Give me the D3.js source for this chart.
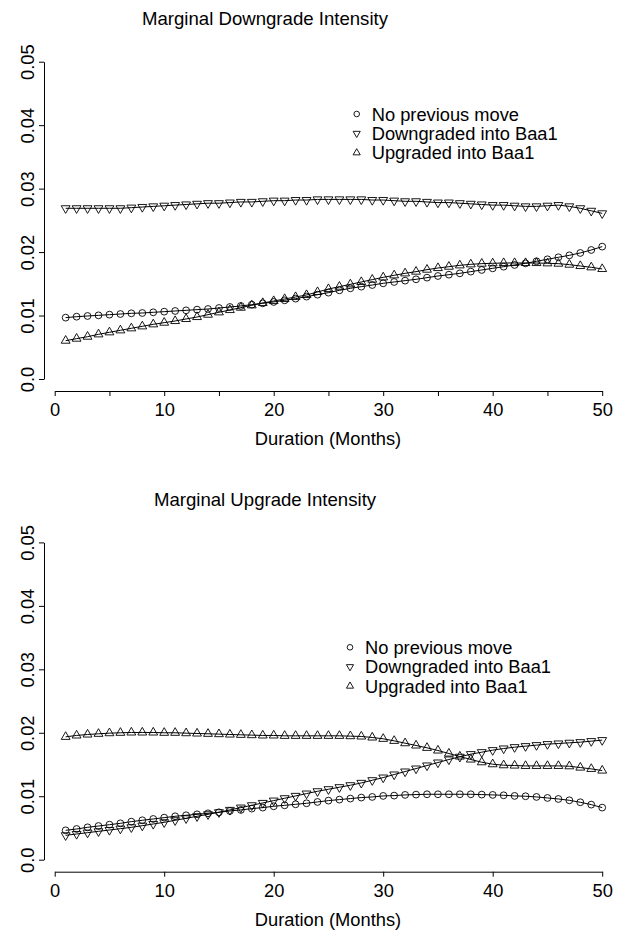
<!DOCTYPE html>
<html>
<head>
<meta charset="utf-8">
<script src="https://cdn.jsdelivr.net/npm/d3@7"></script>
<style>
  html, body { margin: 0; padding: 0; background: #fff; }
  svg { display: block; }
  text { font-family: "Liberation Sans", Arial, Helvetica, sans-serif; fill: #000; }
</style>
</head>
<body>
<svg id="chart" width="624" height="930"></svg>
<script>
// ---------------- data ----------------
const months = d3.range(1, 51); // 1..50

const seriesNames = ["No previous move", "Downgraded into Baa1", "Upgraded into Baa1"];

const downNoPrev = [0.00967,0.00982,0.00993,0.01003,0.01014,0.01024,0.01035,0.01040,0.01051,0.01061,
  0.01072,0.01082,0.01093,0.01103,0.01119,0.01135,0.01151,0.01172,0.01193,0.01214,
  0.01240,0.01266,0.01298,0.01329,0.01361,0.01397,0.01429,0.01455,0.01481,0.01508,
  0.01529,0.01550,0.01571,0.01597,0.01623,0.01644,0.01665,0.01692,0.01718,0.01744,
  0.01770,0.01797,0.01823,0.01855,0.01886,0.01918,0.01949,0.01986,0.02033,0.02086];

const downDowngraded = [0.0269,0.0269,0.0269,0.0269,0.0269,0.0269,0.0270,0.0271,0.0272,0.0273,
  0.0274,0.0275,0.0276,0.0277,0.0277,0.0278,0.0279,0.0279,0.0280,0.0281,
  0.0281,0.0282,0.0282,0.0283,0.0283,0.0283,0.0283,0.0283,0.0282,0.0282,
  0.0281,0.0280,0.0280,0.0279,0.0278,0.0278,0.0277,0.0276,0.0275,0.0274,
  0.0274,0.0273,0.0272,0.0272,0.0273,0.0274,0.0272,0.0269,0.0265,0.0261];

const downUpgraded = [0.00604,0.00636,0.00667,0.00704,0.00736,0.00767,0.00799,0.00830,0.00862,0.00888,
  0.00914,0.00946,0.00977,0.01014,0.01051,0.01087,0.01124,0.01161,0.01198,0.01229,
  0.01261,0.01292,0.01324,0.01371,0.01418,0.01455,0.01492,0.01529,0.01566,0.01602,
  0.01634,0.01665,0.01692,0.01723,0.01749,0.01770,0.01791,0.01807,0.01818,0.01823,
  0.01828,0.01828,0.01828,0.01828,0.01823,0.01818,0.01802,0.01781,0.01760,0.01734];

const upNoPrev = [0.00463,0.00484,0.00510,0.00531,0.00552,0.00573,0.00600,0.00621,0.00642,0.00663,
  0.00684,0.00700,0.00715,0.00731,0.00747,0.00768,0.00784,0.00805,0.00821,0.00842,
  0.00857,0.00873,0.00889,0.00910,0.00931,0.00947,0.00963,0.00979,0.00989,0.01005,
  0.01010,0.01021,0.01026,0.01031,0.01031,0.01031,0.01031,0.01031,0.01026,0.01021,
  0.01015,0.01005,0.01000,0.00989,0.00973,0.00957,0.00936,0.00905,0.00868,0.00821];

const upDowngraded = [0.00384,0.00405,0.00426,0.00447,0.00468,0.00489,0.00510,0.00536,0.00563,0.00589,
  0.00621,0.00652,0.00684,0.00715,0.00747,0.00784,0.00821,0.00857,0.00894,0.00931,
  0.00968,0.01005,0.01042,0.01078,0.01110,0.01142,0.01173,0.01210,0.01252,0.01294,
  0.01342,0.01389,0.01436,0.01484,0.01531,0.01579,0.01621,0.01663,0.01694,0.01726,
  0.01752,0.01773,0.01789,0.01805,0.01821,0.01831,0.01842,0.01852,0.01868,0.01884];

const upUpgraded = [0.01936,0.01958,0.01973,0.01984,0.01994,0.02000,0.02005,0.02005,0.02005,0.02000,
  0.02000,0.01994,0.01989,0.01984,0.01979,0.01973,0.01968,0.01963,0.01958,0.01958,
  0.01952,0.01952,0.01952,0.01952,0.01952,0.01952,0.01947,0.01942,0.01926,0.01905,
  0.01873,0.01836,0.01800,0.01763,0.01721,0.01673,0.01626,0.01579,0.01536,0.01505,
  0.01489,0.01484,0.01478,0.01478,0.01478,0.01478,0.01473,0.01452,0.01431,0.01405];

const xTicksTop = [0,5,10,15,20,25,30,35,40,45,50];
const xTicksBottom = [0,10,20,30,40,50];
const xTickLabels = {0:"0",10:"10",20:"20",30:"30",40:"40",50:"50"};
const yTicks = [0,0.01,0.02,0.03,0.04,0.05];
const yTickLabels = ["0.0","0.01","0.02","0.03","0.04","0.05"];

const panels = [
  { title: "Marginal Downgrade Intensity", series: [downNoPrev, downDowngraded, downUpgraded], xTicks: xTicksTop,
    offset: 0, legendX: 356.7, legendY: 114 },
  { title: "Marginal Upgrade Intensity", series: [upNoPrev, upDowngraded, upUpgraded], xTicks: xTicksBottom,
    offset: 480.7, legendX: 350, legendY: 647.3 - 480.7 }
];

// ---------------- drawing ----------------
const svg = d3.select("#chart");
const FS = 18.3;

const x = d3.scaleLinear().domain([0, 50]).range([54.7, 602.2]);
const y = d3.scaleLinear().domain([0, 0.05]).range([379, 61.7]);

const symbolTypes = [d3.symbolCircle, d3.symbolTriangle, d3.symbolTriangle];
const symbolRot = [0, 180, 0];
const symbolSize = [Math.PI * 3.4 * 3.4, 34, 34];
const legendSymbolSize = [Math.PI * 2.8 * 2.8, 22, 22];

panels.forEach(p => {
  const g = svg.append("g").attr("transform", `translate(0,${p.offset})`);

  // title
  g.append("text")
    .attr("x", 265).attr("y", 25)
    .attr("text-anchor", "middle")
    .style("font-size", "18.6px")
    .text(p.title);

  // x axis
  const xAxis = d3.axisBottom(x)
    .tickValues(p.xTicks)
    .tickSize(5)
    .tickSizeOuter(0)
    .tickFormat(d => xTickLabels[d] !== undefined ? xTickLabels[d] : "");
  const gx = g.append("g").attr("transform", "translate(0,391)").call(xAxis);
  gx.select(".domain").attr("stroke", "#000").attr("stroke-width", 1);
  gx.selectAll(".tick line").attr("stroke", "#000").attr("stroke-width", 1);
  gx.selectAll(".tick text")
    .attr("y", 25).attr("dy", 0)
    .style("font-size", FS + "px")
    .style("font-family", "'Liberation Sans', Arial, sans-serif")
    .attr("fill", "#000");

  g.append("text")
    .attr("x", 328).attr("y", 445)
    .attr("text-anchor", "middle")
    .style("font-size", FS + "px")
    .text("Duration (Months)");

  // y axis
  const yAxis = d3.axisLeft(y)
    .tickValues(yTicks)
    .tickSize(5)
    .tickSizeOuter(0)
    .tickFormat((d, i) => yTickLabels[i]);
  const gy = g.append("g").attr("transform", "translate(44,0)").call(yAxis);
  gy.select(".domain").attr("stroke", "#000").attr("stroke-width", 1);
  gy.selectAll(".tick line").attr("stroke", "#000").attr("stroke-width", 1);
  gy.selectAll(".tick text")
    .attr("transform", "rotate(-90)")
    .attr("x", 0).attr("y", -10).attr("dy", 0)
    .attr("text-anchor", "middle")
    .style("font-size", FS + "px")
    .style("font-family", "'Liberation Sans', Arial, sans-serif")
    .attr("fill", "#000");

  // series
  const line = d3.line().x((d, i) => x(months[i])).y(d => y(d));
  p.series.forEach((vals, si) => {
    g.append("path")
      .attr("d", line(vals))
      .attr("fill", "none")
      .attr("stroke", "#000")
      .attr("stroke-width", 1);
    const sym = d3.symbol().type(symbolTypes[si]).size(symbolSize[si]);
    g.append("g").selectAll("path")
      .data(vals)
      .join("path")
      .attr("d", sym)
      .attr("transform", (d, i) => `translate(${x(months[i])},${y(d)}) rotate(${symbolRot[si]})`)
      .attr("fill", "none")
      .attr("stroke", "#000")
      .attr("stroke-width", 0.9);
  });

  // legend
  seriesNames.forEach((name, si) => {
    const ly = p.legendY + si * 19.4;
    g.append("path")
      .attr("d", d3.symbol().type(symbolTypes[si]).size(legendSymbolSize[si])())
      .attr("transform", `translate(${p.legendX},${ly}) rotate(${symbolRot[si]})`)
      .attr("fill", "none").attr("stroke", "#000").attr("stroke-width", 0.9);
    g.append("text")
      .attr("x", p.legendX + 15).attr("y", ly + 6.5)
      .style("font-size", FS + "px")
      .text(name);
  });
});
</script>
</body>
</html>
